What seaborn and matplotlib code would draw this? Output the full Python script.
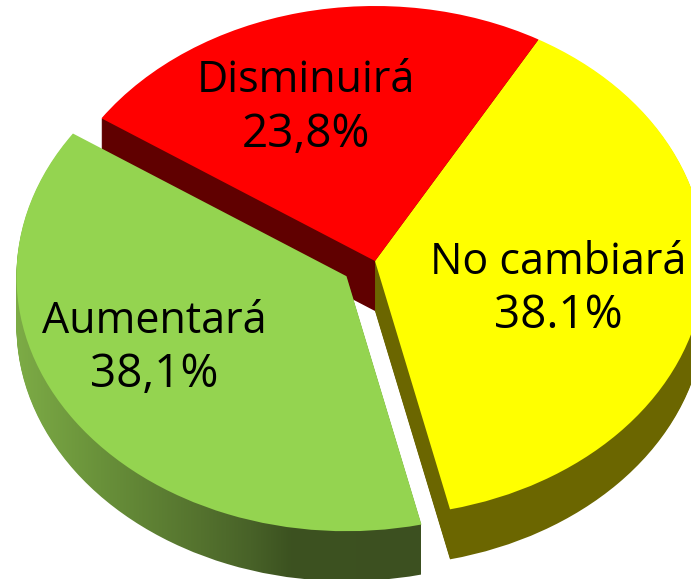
import numpy as np
import matplotlib
matplotlib.use('Agg')
import matplotlib.pyplot as plt
import seaborn as sns

# data
categories = ['No cambiará', 'Aumentará', 'Disminuirá']
shares = [38.1, 38.1, 23.8]
share_labels = ['38.1%', '38,1%', '23,8%']

sns.set_theme(style='white')
plt.rcParams['font.family'] = ['Open Sans', 'DejaVu Sans']

top_colors = ['#ffff00', '#94d450', '#ff0000']
side_colors = ['#6b6600', '#6b6600', '#600000']
explode = [0, 0.105, 0]
start = 60.3

# pie centre and radii in pixels of the 691x579 picture
cx, cy, rx, ry = 375, 261, 330, 255
depth = 50


def px(x, y):
    return (x - cx) / rx, (cy - y) / ry


fig = plt.figure(figsize=(6.91, 5.79), dpi=100, facecolor='white')
ax = fig.add_axes([0, 0, 1, 1])

# side gradient for the green slice, light on the left, dark on the right
grad_x = np.array([15, 100, 200, 250, 290, 420])
grad_r = np.array([125, 105, 84, 72, 60, 60])
grad_g = np.array([172, 145, 114, 98, 82, 80])
grad_b = np.array([70, 58, 46, 40, 32, 32])
xs = np.arange(15, 421)
grad = np.dstack([np.interp(xs, grad_x, grad_r),
                  np.interp(xs, grad_x, grad_g),
                  np.interp(xs, grad_x, grad_b)]) / 255
x0, y0 = px(15, 0)
x1, y1 = px(421, 579)

# step 1:- stack pies from the bottom up to make the thickness
for layer in range(depth, 0, -1):
    z = depth - layer + 1
    wedges, _ = ax.pie(shares, colors=side_colors, explode=explode, startangle=start,
                       counterclock=False, radius=1, center=(0, -layer / ry),
                       wedgeprops={'linewidth': 0, 'zorder': z})
    im = ax.imshow(grad, extent=(x0, x1, y1, y0), aspect='auto', zorder=z + 0.5)
    im.set_clip_path(wedges[1])
    wedges[1].set_visible(False)

# step 2:- top face
ax.pie(shares, colors=top_colors, explode=explode, startangle=start,
       counterclock=False, radius=1, center=(0, 0),
       wedgeprops={'linewidth': 0, 'zorder': depth + 2})

ax.set_aspect('auto')
ax.set_xlim(px(0, 0)[0], px(691, 0)[0])
ax.set_ylim(px(0, 579)[1], px(0, 0)[1])
ax.axis('off')

# step 3:- labels
label_pos = [(558, 274, 328), (154, 333, 387), (306, 92, 147)]
for name, share, (lx, y1_, y2_) in zip(categories, share_labels, label_pos):
    for txt, ly, size in ((name, y1_, 31), (share, y2_, 33)):
        tx, ty = px(lx, ly)
        ax.text(tx, ty, txt, ha='center', va='baseline', fontsize=size,
                color='black', zorder=depth + 5)

fig.savefig('out.png', dpi=100, facecolor='white')
